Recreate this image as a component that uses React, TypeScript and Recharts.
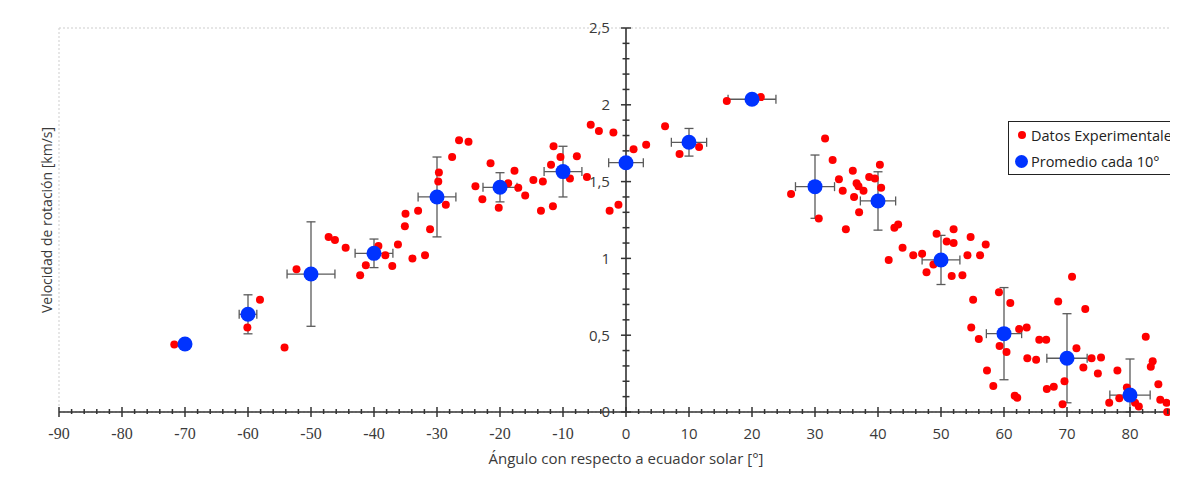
import {
  ScatterChart,
  Scatter,
  XAxis,
  YAxis,
  CartesianGrid,
  ReferenceLine,
  ErrorBar,
  Legend,
} from 'recharts'

const SANS = "'Open Sans', 'Noto Sans', sans-serif"
const SERIF = "'Liberation Serif', 'Times New Roman', 'DejaVu Serif', serif"
const AXIS = '#333'

// datos experimentales (red)
const expAngle = [
  -71.7, -60.1, -58.1, -54.2, -52.3, -47.2, -46.2, -44.5, -42.2, -41.3,
  -39.3, -38.2, -37.1, -36.2, -35.1, -35.0, -33.9, -33.0, -31.9, -31.1,
  -29.7, -29.8, -28.6, -27.6, -26.5, -25.0, -23.9, -22.8, -21.5, -20.2,
  -18.7, -17.7, -17.1, -16.0, -14.7, -13.2, -13.5, -11.6, -11.9, -11.5,
  -10.4, -8.9, -7.8, -6.2, -5.6, -4.3, -2.0, -2.6, -1.2,
  1.2, 3.2, 6.2, 8.5, 11.6, 16.0, 21.4, 26.2, 30.6, 31.6,
  32.8, 33.8, 34.4, 34.9, 36.0, 36.6, 36.9, 37.7, 36.2, 37.0,
  38.6, 39.5, 40.3, 40.5, 42.6, 43.2, 43.9, 41.7, 45.6, 47.0,
  47.7, 48.8, 49.3, 50.9, 52.0, 52.0, 51.7, 53.4, 54.7, 54.2,
  56.2, 57.1, 70.8, 55.1, 59.2, 61.0, 54.8, 56.0, 59.3, 60.4,
  62.4, 63.6, 57.3, 58.3, 61.7, 62.1, 63.7, 65.1, 65.6, 66.7,
  66.8, 67.9, 68.6, 69.6, 69.3, 71.5, 72.9, 72.6, 73.9, 74.9,
  75.4, 76.7, 78.0, 78.3, 79.5, 80.8, 81.4, 82.5, 83.3, 83.6,
  84.5, 84.8, 85.8, 85.9, 87.1, 87.5,
]
const expSpeed = [
  0.44, 0.55, 0.73, 0.42, 0.93, 1.14, 1.12, 1.07, 0.89, 0.955,
  1.08, 1.02, 0.95, 1.09, 1.21, 1.29, 1.0, 1.31, 1.02, 1.19,
  1.56, 1.5, 1.35, 1.66, 1.77, 1.76, 1.47, 1.385, 1.62, 1.33,
  1.49, 1.57, 1.46, 1.41, 1.51, 1.5, 1.31, 1.34, 1.61, 1.73,
  1.66, 1.52, 1.665, 1.53, 1.87, 1.83, 1.82, 1.31, 1.35,
  1.71, 1.74, 1.86, 1.68, 1.725, 2.025, 2.05, 1.42, 1.26, 1.78,
  1.64, 1.515, 1.44, 1.19, 1.57, 1.49, 1.47, 1.44, 1.4, 1.3,
  1.53, 1.52, 1.61, 1.46, 1.2, 1.22, 1.07, 0.99, 1.02, 1.03,
  0.91, 0.96, 1.16, 1.11, 1.19, 1.1, 0.885, 0.89, 1.14, 1.02,
  1.02, 1.09, 0.88, 0.73, 0.78, 0.71, 0.55, 0.475, 0.43, 0.39,
  0.54, 0.55, 0.27, 0.17, 0.106, 0.093, 0.35, 0.34, 0.47, 0.47,
  0.15, 0.165, 0.72, 0.2, 0.05, 0.415, 0.67, 0.29, 0.35, 0.25,
  0.355, 0.06, 0.27, 0.09, 0.16, 0.06, 0.035, 0.49, 0.295, 0.33,
  0.18, 0.08, 0.06, 0.0, 0.27, 0.035,
]

// promedio cada 10 grados (blue)
const avgAngle = [-70, -60, -50, -40, -30, -20, -10, 0, 10, 20, 30, 40, 50, 60, 70, 80]
const avgSpeed = [0.443, 0.636, 0.898, 1.033, 1.4, 1.463, 1.565, 1.623, 1.756, 2.036, 1.467, 1.374, 0.99, 0.51, 0.35, 0.11]
const avgAngleErr = [0, 1.4, 3.8, 3, 3, 2.7, 3, 2.75, 2.8, 3.8, 3.1, 2.8, 3, 2.8, 3.2, 3.2]
const avgSpeedErr: (number | number[])[] = [0, 0.127, 0.34, 0.093, 0.26, 0.095, 0.165, 0, 0.09, 0, 0.206, 0.19, 0.16, 0.3, 0.29, [0.11, 0.235]]

const xMajor = [-90, -80, -70, -60, -50, -40, -30, -20, -10, 0, 10, 20, 30, 40, 50, 60, 70, 80, 90]
const xMinor = Array.from({ length: 90 }, (_, i) => -90 + i * 2) // -90 .. 88
const yTicks = [0, 0.5, 1, 1.5, 2, 2.5]
const yTickLabels = ['0', '0,5', '1', '1,5', '2', '2,5']
const yMinor = Array.from({ length: 25 }, (_, i) => Math.round((i + 1) * 10) / 100)
  .filter((v) => Math.round(v * 10) % 5 !== 0)

const expData = expAngle.map((x, i) => ({ x, y: expSpeed[i] }))
const avgData = avgAngle.map((x, i) => ({ x, y: avgSpeed[i], ex: avgAngleErr[i], ey: avgSpeedErr[i] }))

function XTick(props: any) {
  const { x, y, payload } = props
  const v = payload.value
  const major = v % 10 === 0
  const font = v < 0 ? SERIF : SANS
  return (
    <g>
      <line x1={x} x2={x} y1={y - (major ? 5 : 3)} y2={y + (major ? 5 : 2)} stroke={AXIS} strokeWidth={1.5} />
      {major && (
        <text
          x={x}
          y={y + 27}
          textAnchor="middle"
          fill="#3a3a3a"
          fontFamily={font}
          fontSize={v < 0 ? 16 : 15}
          style={{ fontFamily: font }}
        >
          {v}
        </text>
      )}
    </g>
  )
}

function LegendBox(props: any) {
  const sizes = [8, 13]
  return (
    <div
      style={{
        border: '1.5px solid #222',
        background: '#fff',
        padding: '0 24px 0 6px',
        fontFamily: SANS,
        fontSize: 14.5,
        color: '#222',
        whiteSpace: 'nowrap',
      }}
    >
      {(props.payload || []).map((p: any, i: number) => (
        <div key={p.value} style={{ display: 'flex', alignItems: 'center', height: 26 }}>
          <span style={{ width: 13, display: 'inline-flex', justifyContent: 'center' }}>
            <span style={{ width: sizes[i], height: sizes[i], borderRadius: '50%', background: p.color, display: 'inline-block' }} />
          </span>
          <span style={{ marginLeft: 3 }}>{p.value}</span>
        </div>
      ))}
    </div>
  )
}

export default function App() {
  return (
    <div style={{ margin: -8, width: 1178, height: 477, overflow: 'hidden', background: '#fff' }}>
      <ScatterChart width={1213} height={477} margin={{ top: 28, right: 20, left: 0, bottom: 0 }}>
        <XAxis xAxisId="grid" type="number" domain={[-90, 90]} ticks={xMajor} hide />
        <CartesianGrid xAxisId="grid" stroke="#cdcdcd" strokeDasharray="2 2" />
        <XAxis
          type="number"
          dataKey="x"
          domain={[-90, 90]}
          ticks={xMinor}
          interval={0}
          tick={<XTick />}
          tickLine={false}
          tickSize={0}
          tickMargin={0}
          axisLine={{ stroke: AXIS, strokeWidth: 1.6 }}
          height={65}
          label={{
            value: 'Ángulo con respecto a ecuador solar [°]',
            position: 'insideBottom',
            offset: 13,
            fill: '#3a3a3a',
            fontSize: 15,
            fontFamily: SANS,
          }}
        />
        <YAxis
          type="number"
          dataKey="y"
          domain={[0, 2.5]}
          ticks={yTicks}
          width={59}
          tick={false}
          tickLine={false}
          axisLine={false}
          label={{
            value: 'Velocidad de rotación [km/s]',
            angle: -90,
            position: 'insideLeft',
            offset: 47,
            fill: '#3a3a3a',
            fontSize: 14,
            fontFamily: SANS,
            style: { textAnchor: 'middle' },
          }}
        />
        <ReferenceLine x={0} stroke={AXIS} strokeWidth={1.6} />
        {yMinor.map((v) => (
          <ReferenceLine key={`m${v}`} segment={[{ x: -0.55, y: v }, { x: 0.55, y: v }]} stroke={AXIS} strokeWidth={1.5} />
        ))}
        {yTicks.map((v, i) => (
          <ReferenceLine
            key={`t${v}`}
            segment={[{ x: -0.8, y: v }, { x: 0.8, y: v }]}
            stroke={AXIS}
            strokeWidth={1.5}
            label={{ value: yTickLabels[i], position: 'left', offset: 11, fill: '#3a3a3a', fontSize: 15, fontFamily: SANS }}
          />
        ))}
        <Scatter
          name="Datos Experimentales"
          data={expData}
          fill="#ff0000"
          isAnimationActive={false}
          shape={(p: any) => <circle cx={p.cx} cy={p.cy} r={4} fill="#ff0000" />}
        />
        <Scatter
          name="Promedio cada 10°"
          data={avgData}
          fill="#0033ff"
          isAnimationActive={false}
          shape={(p: any) => <circle cx={p.cx} cy={p.cy} r={7.5} fill="#0033ff" />}
        >
          <ErrorBar dataKey="ey" direction="y" width={4.5} stroke="#5a5a5a" strokeWidth={1.3} />
          <ErrorBar dataKey="ex" direction="x" width={4.5} stroke="#5a5a5a" strokeWidth={1.3} />
        </Scatter>
        <Legend
          content={<LegendBox />}
          layout="vertical"
          align="center"
          verticalAlign="middle"
          wrapperStyle={{ left: 1008, top: 121, width: 'auto', height: 'auto' }}
        />
      </ScatterChart>
    </div>
  )
}
